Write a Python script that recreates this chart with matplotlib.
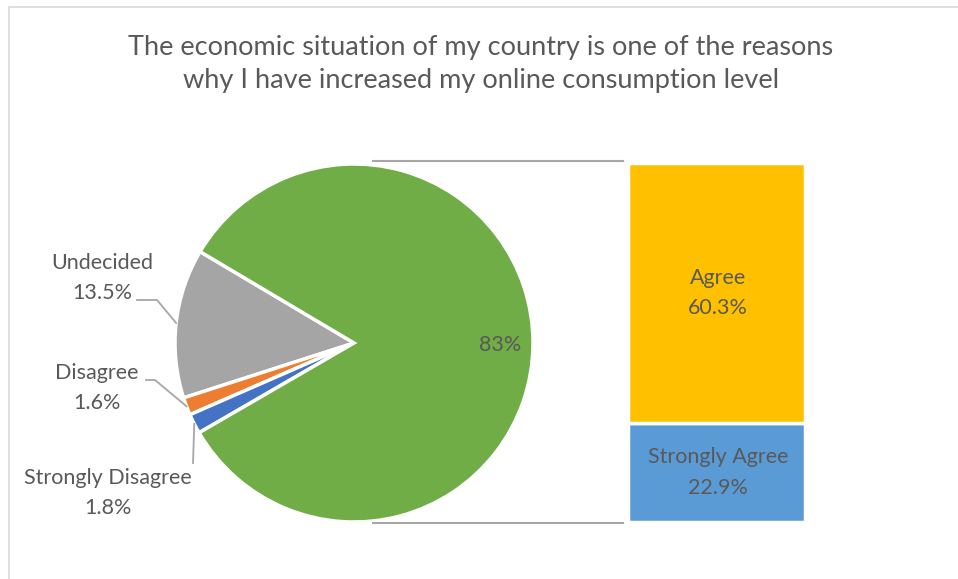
import numpy as np
import matplotlib.pyplot as plt
from matplotlib.patches import Rectangle

plt.rcParams['font.family'] = ['Lato', 'DejaVu Sans']

title = 'The economic situation of my country is one of the reasons\nwhy I have increased my online consumption level'

# pie part
pie_labels = ['Undecided', 'Disagree', 'Strongly Disagree']
pie_values = [13.5, 1.6, 1.8]
pie_colors = ['#A5A5A5', '#ED7D31', '#4472C4']

# bar part (the "other" slice of the pie)
bar_labels = ['Strongly Agree', 'Agree']
bar_values = [22.9, 60.3]
bar_colors = ['#5B9BD5', '#FFC000']

other_value = sum(bar_values)
other_color = '#70AD47'

txt = '#595959'
line_col = '#A6A6A6'

W, H = 958, 579
fig = plt.figure(figsize=(W / 100, H / 100), dpi=100)
ax = fig.add_axes([0, 0, 1, 1])
ax.set_xlim(0, W)
ax.set_ylim(0, H)
ax.axis('off')

# chart frame
ax.add_patch(Rectangle((9, -10), W + 20, H - 7 + 10, fill=False, edgecolor='#D9D9D9', lw=1.2))

ax.text(W / 2 + 2, H - 64, title, ha='center', va='center', fontsize=19.5,
        color=txt, linespacing=1.4)

cx, cy, r = 354, 236, 179
start = 149.3
vals = pie_values + [other_value]
cols = pie_colors + [other_color]
wedges, _ = ax.pie(vals, colors=cols, startangle=start, counterclock=True,
                   center=(cx, cy), radius=r,
                   wedgeprops=dict(edgecolor='white', linewidth=2.5))
ax.set_xlim(0, W)
ax.set_ylim(0, H)
ax.set_aspect('equal')

# 83% label inside green slice
ax.text(cx + 146, cy - 2, f'{other_value:.0f}%', ha='center', va='center', fontsize=15.5, color=txt)

# outside labels with leader lines
def edge_point(w):
    mid = np.deg2rad((w.theta1 + w.theta2) / 2)
    return cx + r * np.cos(mid), cy + r * np.sin(mid)

label_pos = [(102, H - 278), (97, H - 388), (108, H - 493)]
elbows = [[(157, H - 300), (137, H - 300)],
          [(155, H - 380), (146, H - 380)],
          [(193, H - 463)]]
for w, lab, val, pos, elb in zip(wedges, pie_labels, pie_values, label_pos, elbows):
    p0 = edge_point(w)
    pts = [p0] + elb
    ax.plot([p[0] for p in pts], [p[1] for p in pts], color=line_col, lw=1.3)
    ax.text(pos[0], pos[1], f'{lab}\n{val}%', ha='center', va='center',
            fontsize=15.5, color=txt, linespacing=1.65)

# connector lines pie -> bar
ax.plot([373, 623], [H - 161, H - 161], color=line_col, lw=1.5)
ax.plot([373, 623], [H - 523, H - 523], color=line_col, lw=1.5)

# stacked bar
bx0, bx1, by0, by1 = 628, 805, 163, 522
bax = fig.add_axes([bx0 / W, (H - by1) / H, (bx1 - bx0) / W, (by1 - by0) / H])
bottom = 0
for lab, val, col in zip(bar_labels, bar_values, bar_colors):
    bax.bar(0, val, bottom=bottom, width=1, color=col, edgecolor='white', linewidth=2.5)
    bax.text(0.01, bottom + val / 2, f'{lab}\n{val}%', ha='center', va='center',
             fontsize=15.5, color=txt, linespacing=1.65)
    bottom += val
bax.set_xlim(-0.5, 0.5)
bax.set_ylim(0, other_value)
bax.axis('off')

fig.savefig('out.png', dpi=100)
